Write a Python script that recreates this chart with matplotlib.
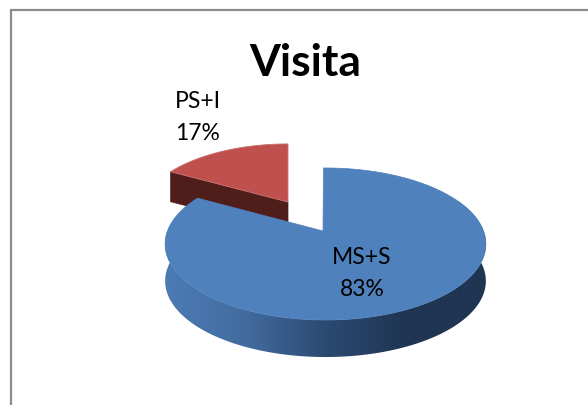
import numpy as np
import matplotlib
matplotlib.use("Agg")
import matplotlib.pyplot as plt
from matplotlib.patches import Polygon
from matplotlib.colors import LinearSegmentedColormap

title = "Visita"
categories = ["MS+S", "PS+I"]
values = [83, 17]
percent_labels = ["83%", "17%"]

FONT = "Lato"
W, H = 588, 405
fig = plt.figure(figsize=(W / 100, H / 100), dpi=100, facecolor="white")
ax = fig.add_axes([0, 0, 1, 1])
ax.set_xlim(0, W)
ax.set_ylim(H, 0)
ax.axis("off")

# frame (open at right and bottom)
ax.plot([10.5, 10.5, W], [H, 9.5, 9.5], color="#8c8c8c", lw=1.6, solid_capstyle="butt", solid_joinstyle="miter")

K = 0.171
A = 73.8


def project(theta, cx, cy, bx, ay):
    """theta: clockwise from north in radians. Perspective projection of the disc rim."""
    u = np.sin(theta)
    v = np.cos(theta)
    w = 1 + K * v
    return cx + bx * u / w, cy - ay * v / w


fracs = np.array(values, dtype=float) / sum(values)
blue_end = 2 * np.pi * fracs[0]

# Red slice (exploded, drawn first, lies behind)
rcx, rcy, rb, ra = 288, 202, 145, 68
t_red = np.linspace(blue_end, 2 * np.pi, 80)
xr, yr = project(t_red, rcx, rcy, rb, ra)
rdepth = 30
tipx, tipy = xr[0], yr[0]
ax.add_patch(Polygon([(tipx, tipy), (rcx, rcy), (rcx, rcy + rdepth), (tipx, tipy + rdepth)],
                     closed=True, fc="#4f1e1b", ec="#4f1e1b", lw=0.5, zorder=2))
ax.add_patch(Polygon(np.r_[[[rcx, rcy]], np.c_[xr, yr]], closed=True, fc="#c0504d", ec="#c9736f", lw=0.6, zorder=3))

# Blue slice
bcx, bcy, bb, ba = 325.5, 231, 158, A
apex_x = 323
t_blue = np.linspace(-0.015, blue_end, 400)
xb, yb = project(t_blue, bcx, bcy, bb, ba)
depth = 37

# Side wall: visible part of the rim, with shifted lower rim
mask = (t_blue > np.pi * 0.35) & (t_blue < blue_end)
xs, ys = xb[mask], yb[mask]
side = np.r_[np.c_[xs, ys], np.c_[xs, ys + depth][::-1]]
side_patch = Polygon(side, closed=True, fc="none", ec="none", zorder=4)
ax.add_patch(side_patch)
cmap = LinearSegmentedColormap.from_list("side", ["#1f3552", "#1f3552", "#2c4a72", "#426c9f", "#4c7bb4"])
grad = np.linspace(0, 1, 256).reshape(1, -1)
im = ax.imshow(grad, extent=[xb.max(), xb.min(), H, 0], cmap=cmap, aspect="auto", zorder=4)
im.set_clip_path(side_patch)
ax.set_xlim(0, W)
ax.set_ylim(H, 0)

ax.add_patch(Polygon(np.r_[[[apex_x, bcy]], np.c_[xb, yb]], closed=True, fc="#4f81bd", ec="#4f81bd", lw=0.5, zorder=5))

# Texts
ax.text(305, 63, title, fontsize=32, fontweight="bold", family=FONT, ha="center", va="center", color="black", zorder=6)
ax.text(362, 257, categories[0], fontsize=16.5, family=FONT, ha="center", va="center", color="black", zorder=6)
ax.text(362, 289, percent_labels[0], fontsize=16.5, family=FONT, ha="center", va="center", color="black", zorder=6)
ax.text(198, 102, categories[1], fontsize=16.5, family=FONT, ha="center", va="center", color="black", zorder=6)
ax.text(198, 134, percent_labels[1], fontsize=16.5, family=FONT, ha="center", va="center", color="black", zorder=6)

fig.savefig("out.png", dpi=100, facecolor="white")
